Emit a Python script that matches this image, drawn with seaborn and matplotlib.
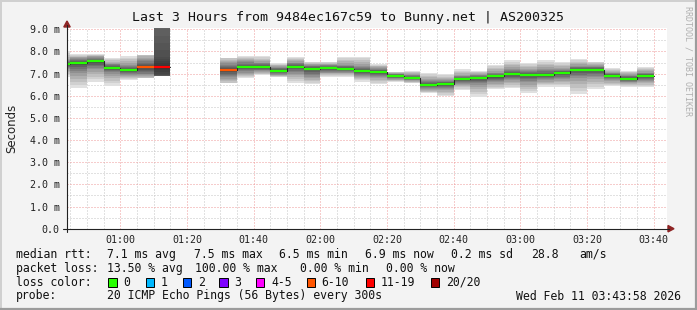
import matplotlib
matplotlib.use("Agg")
import matplotlib.pyplot as plt
import seaborn as sns
import pandas as pd
from matplotlib.patches import Rectangle, Polygon
from matplotlib.lines import Line2D

# ---------------- data ----------------
bar_start = ["00:40", "00:45", "00:50", "00:55", "01:00", "01:05", "01:10",
             "01:30", "01:35", "01:40", "01:45", "01:50", "01:55", "02:00",
             "02:05", "02:10", "02:15", "02:20", "02:25", "02:30", "02:35",
             "02:40", "02:45", "02:50", "02:55", "03:00", "03:05", "03:10",
             "03:15", "03:20", "03:25", "03:30", "03:35"]
median_ms = [7.42, 7.47, 7.55, 7.27, 7.18, 7.30, 7.30,
             7.16, 7.31, 7.31, 7.13, 7.31, 7.22, 7.25,
             7.21, 7.12, 7.07, 6.91, 6.80, 6.50, 6.55,
             6.77, 6.80, 6.88, 6.98, 6.95, 6.95, 7.04,
             7.17, 7.17, 6.91, 6.77, 6.91]
low_ms = [6.85, 6.34, 6.64, 6.46, 6.71, 6.82, 6.91,
          6.59, 6.79, 6.94, 6.84, 6.59, 6.53, 6.86,
          6.84, 6.64, 6.52, 6.64, 6.56, 6.11, 5.99,
          6.26, 5.96, 6.29, 6.34, 6.14, 6.41, 6.41,
          6.08, 6.31, 6.44, 6.41, 6.41]
q1_ms = [7.20, 7.05, 7.20, 7.00, 6.95, 7.00, 6.92,
         6.90, 7.05, 7.10, 6.95, 7.00, 6.85, 7.05,
         7.05, 6.90, 6.85, 6.75, 6.70, 6.30, 6.30,
         6.55, 6.50, 6.60, 6.70, 6.60, 6.70, 6.75,
         6.80, 6.85, 6.70, 6.60, 6.65]
q3_ms = [7.60, 7.70, 7.75, 7.45, 7.40, 7.55, 7.77,
         7.40, 7.55, 7.50, 7.30, 7.50, 7.40, 7.40,
         7.40, 7.35, 7.25, 7.00, 6.95, 6.70, 6.70,
         6.90, 6.95, 7.05, 7.20, 7.15, 7.20, 7.20,
         7.35, 7.35, 7.05, 6.95, 7.05]
high_ms = [8.00, 7.87, 7.87, 7.69, 7.80, 7.84, 9.30,
           7.69, 7.80, 7.80, 7.47, 7.77, 7.54, 7.54,
           7.77, 7.77, 7.44, 7.09, 7.13, 7.04, 6.98,
           7.20, 7.13, 7.39, 7.62, 7.49, 7.62, 7.54,
           7.66, 7.54, 7.24, 7.13, 7.31]
lost_pings = [0, 0, 0, 0, 0, 8, 15,
              7, 0, 0, 0, 0, 0, 0,
              0, 0, 0, 0, 0, 0, 0,
              0, 0, 0, 0, 0, 0, 0,
              0, 0, 0, 0, 0]

x_tick_labels = ["01:00", "01:20", "01:40", "02:00", "02:20", "02:40",
                 "03:00", "03:20", "03:40"]
y_tick_labels = ["0.0", "1.0 m", "2.0 m", "3.0 m", "4.0 m", "5.0 m",
                 "6.0 m", "7.0 m", "8.0 m", "9.0 m"]
view_start, view_end = "00:43:58", "03:43:58"

title = "Last 3 Hours from 9484ec167c59 to Bunny.net | AS200325"
rtt_items = ["median rtt:", "7.1 ms avg", "7.5 ms max", "6.5 ms min",
             "6.9 ms now", "0.2 ms sd", "28.8", "am/s"]
loss_items = ["packet loss:", "13.50 % avg", "100.00 % max", "0.00 % min",
              "0.00 % now"]
loss_color_labels = ["0", "1", "2", "3", "4-5", "6-10", "11-19", "20/20"]
loss_color_values = ["#26ff00", "#00b8ff", "#0059ff", "#7e00ff",
                     "#ff00ff", "#ff5500", "#ff0000", "#a00000"]
loss_color_upper = [0, 1, 2, 3, 5, 10, 19, 20]
probe_items = ["probe:", "20 ICMP Echo Pings (56 Bytes) every 300s",
               "Wed Feb 11 03:43:58 2026"]

# ---------------- helpers ----------------
def to_min(s):
    parts = [int(p) for p in s.split(":")]
    return parts[0] * 60 + parts[1] + (parts[2] / 60 if len(parts) > 2 else 0)

def loss_color(n):
    for up, c in zip(loss_color_upper, loss_color_values):
        if n <= up:
            return c
    return loss_color_values[-1]

W, H = 697, 310
def fx(x): return x / W
def fy(y): return 1 - y / H

sns.set_theme(style="white")
plt.rcParams["font.family"] = ["DejaVu Sans Mono", "DejaVu Sans"]

fig = plt.figure(figsize=(W / 100, H / 100), dpi=100, facecolor="#f3f3f3")
y0_px, y_top_px = 228.7, 28.2
ax = fig.add_axes([fx(67), fy(y0_px), 600 / W, (y0_px - y_top_px) / H])
ax.set_facecolor("white")
ax.set_xlim(to_min(view_start), to_min(view_end))
ax.set_ylim(0, 9.05)
for s in ax.spines.values():
    s.set_visible(False)

# grid
major_x = [to_min(t) for t in x_tick_labels]
ax.set_xticks(major_x)
ax.set_xticklabels(x_tick_labels)
ax.set_xticks([m for m in range(45, 224, 5)], minor=True)
ax.set_yticks(range(len(y_tick_labels)))
ax.set_yticklabels(y_tick_labels)
ax.set_yticks([i + 0.5 for i in range(9)], minor=True)
ax.grid(which="minor", color="#c4c4c4", linestyle=(0, (1, 2)), linewidth=0.72)
ax.grid(which="major", color="#ee9a9a", linestyle=(0, (1, 2)), linewidth=0.72)
ax.set_axisbelow(True)
ax.tick_params(axis="both", which="both", labelsize=7.2, colors="#222222")
ax.tick_params(axis="y", which="major", direction="out", length=2.2, width=0.7,
               pad=3.2, color="#555555")
ax.tick_params(axis="y", which="minor", direction="out", length=1.5, width=0.7,
               color="#999999")
ax.tick_params(axis="x", which="major", direction="out", length=2.2, width=0.7,
               pad=2.0, color="#dd8888")
ax.tick_params(axis="x", which="minor", direction="out", length=1.5, width=0.7,
               color="#aaaaaa")

# smoke
K = 10
for st, lo, a, md, b, hi, nl in zip(bar_start, low_ms, q1_ms, median_ms, q3_ms,
                                     high_ms, lost_pings):
    x0 = to_min(st)
    outer = max(224 - (nl ** 2) * 0.55, 95)
    inner = max(64 - nl * 1.0, 45)
    for k in range(K):
        t = k / K
        if t <= 0.5:
            lower = lo + (a - lo) * (t / 0.5)
            upper = hi + (b - hi) * (t / 0.5)
        else:
            lower = a + (md - a) * ((t - 0.5) / 0.5)
            upper = b + (md - b) * ((t - 0.5) / 0.5)
        g = (outer + (inner - outer) * t) / 255
        ax.fill_between([x0, x0 + 5], [lower, lower], [upper, upper],
                        color=(g, g, g), linewidth=0, zorder=2)

# median connector (step line) per contiguous group
df = pd.DataFrame({"t": [to_min(s) for s in bar_start], "med": median_ms})
groups, cur = [], [0]
for i in range(1, len(df)):
    if df.t[i] - df.t[i - 1] > 5:
        groups.append(cur)
        cur = []
    cur.append(i)
groups.append(cur)
for g in groups:
    sub = df.iloc[g]
    xs = list(sub.t) + [sub.t.iloc[-1] + 5]
    ys = list(sub.med) + [sub.med.iloc[-1]]
    sns.lineplot(x=xs, y=ys, ax=ax, drawstyle="steps-post", color="#262626",
                 linewidth=0.8, zorder=3, estimator=None, sort=False)

# median segments coloured by loss
for st, md, nl in zip(bar_start, median_ms, lost_pings):
    x0 = to_min(st)
    ax.hlines(md, x0, x0 + 5, colors=loss_color(nl), linewidth=1.6, zorder=4)

# axes lines with arrows
arrow_c = "#8e2424"
fig.add_artist(Line2D([fx(67), fx(67)], [fy(232), fy(25)], color="#222222",
                      linewidth=0.8))
fig.add_artist(Line2D([fx(62.5), fx(669)], [fy(y0_px), fy(y0_px)],
                      color="#222222", linewidth=0.8))
fig.add_artist(Polygon([(fx(67), fy(21)), (fx(63.8), fy(27)), (fx(70.2), fy(27))],
                       closed=True, color=arrow_c))
fig.add_artist(Polygon([(fx(674), fy(y0_px)), (fx(668), fy(y0_px - 3.2)),
                        (fx(668), fy(y0_px + 3.2))], closed=True, color=arrow_c))

# texts
mono = "DejaVu Sans Mono"
fig.text(0.5, fy(18), title, ha="center", va="center", fontsize=9.5,
         family=mono, color="#111111")
fig.text(fx(11.5), fy(128), "Seconds", rotation=90, ha="center", va="center",
         fontsize=8.5, family="DejaVu Sans", color="#222222")
fig.text(fx(688), fy(61), "RRDTOOL / TOBI OETIKER", rotation=-90, ha="center",
         va="center", fontsize=6.0, family=mono, color="#b0b0b0")

fs = 8.3
rtt_x = [16, 107.3, 194, 279.3, 365, 451, 530.7, 579.3]
for s, x in zip(rtt_items, rtt_x):
    fig.text(fx(x), fy(254.3), s, ha="left", va="center", fontsize=fs,
             family=mono, color="#111111")
loss_x = [16, 107.3, 195, 300, 386]
for s, x in zip(loss_items, loss_x):
    fig.text(fx(x), fy(268.3), s, ha="left", va="center", fontsize=fs,
             family=mono, color="#111111")
fig.text(fx(16), fy(282.3), "loss color:", ha="left", va="center", fontsize=fs,
         family=mono, color="#111111")
box_x = [108.3, 145.7, 182.7, 219.3, 256, 306.7, 365.7, 430.7]
for lab, col, bx in zip(loss_color_labels, loss_color_values, box_x):
    fig.add_artist(Rectangle((fx(bx), fy(286.7)), 8.4 / W, 8.4 / H,
                             facecolor=col, edgecolor="black", linewidth=0.7))
    fig.text(fx(bx + 15), fy(282.3), lab, ha="left", va="center", fontsize=fs,
             family=mono, color="#111111")
fig.text(fx(16), fy(296), probe_items[0], ha="left", va="center", fontsize=fs,
         family=mono, color="#111111")
fig.text(fx(107.3), fy(296), probe_items[1], ha="left", va="center", fontsize=fs,
         family=mono, color="#111111")
fig.text(fx(681), fy(296), probe_items[2], ha="right", va="center", fontsize=fs,
         family=mono, color="#111111")

# outer border
fig.add_artist(Line2D([0, 1], [fy(0.5), fy(0.5)], color="#d0d0d0", linewidth=1.4))
fig.add_artist(Line2D([fx(0.5), fx(0.5)], [0, 1], color="#d0d0d0", linewidth=1.4))
fig.add_artist(Line2D([0, 1], [fy(309), fy(309)], color="#9c9c9c", linewidth=1.6))
fig.add_artist(Line2D([fx(696), fx(696)], [0, 1], color="#9c9c9c", linewidth=1.6))

fig.savefig("out.png", dpi=100, facecolor=fig.get_facecolor())
